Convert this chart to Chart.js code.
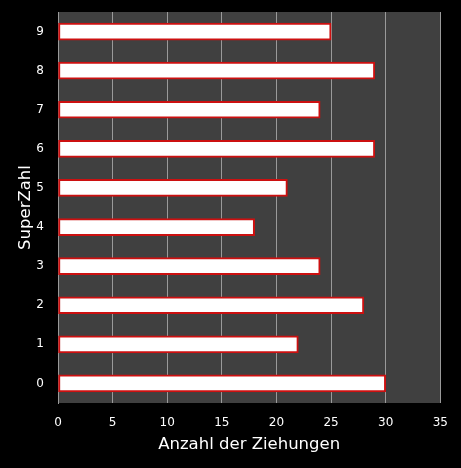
<!DOCTYPE html>
<html>
<head>
<meta charset="utf-8">
<script src="https://cdn.jsdelivr.net/npm/chart.js@4.4.0/dist/chart.umd.min.js"></script>
<style>
  html, body { margin: 0; padding: 0; background: #000; }
  #wrap { width: 461px; height: 468px; }
</style>
</head>
<body>
<div id="wrap"><canvas id="mycanvas"></canvas></div>
<script>
var superZahl = ['0', '1', '2', '3', '4', '5', '6', '7', '8', '9'];
var ziehungen = [30, 22, 28, 24, 18, 21, 29, 24, 29, 25];
var xTicks = [0, 5, 10, 15, 20, 25, 30, 35];

// dark plot area behind the bars
var plotBg = {
  id: 'plotBg',
  beforeDraw: function(chart) {
    var a = chart.chartArea, ctx = chart.ctx;
    ctx.save();
    ctx.fillStyle = '#404040';
    ctx.fillRect(a.left, a.top, a.right - a.left, a.bottom - a.top);
    ctx.restore();
  }
};

Chart.defaults.font.family = 'DejaVu Sans';
Chart.defaults.color = '#ffffff';

new Chart(document.getElementById('mycanvas'), {
  type: 'bar',
  data: {
    labels: superZahl,
    datasets: [{
      label: 'Anzahl',
      data: ziehungen,
      backgroundColor: '#ffffff',
      borderColor: '#cc1010',
      borderWidth: 2,
      borderSkipped: false,
      barThickness: 17
    }]
  },
  options: {
    indexAxis: 'y',
    responsive: true,
    maintainAspectRatio: false,
    animation: false,
    layout: { padding: { left: 16, right: 20, top: 12, bottom: 13 } },
    plugins: { legend: { display: false }, tooltip: { enabled: false } },
    scales: {
      x: {
        min: 0,
        max: 35,
        afterBuildTicks: function(scale) {
          scale.ticks = xTicks.map(function(v) { return { value: v }; });
        },
        afterFit: function(scale) { scale.height = 52; },
        grid: { color: '#9a9a9a', lineWidth: 1, drawTicks: false },
        border: { display: false },
        ticks: { color: '#ffffff', font: { size: 12 }, padding: 13 },
        title: {
          display: true,
          text: 'Anzahl der Ziehungen',
          color: '#ffffff',
          font: { size: 16.5 },
          padding: { top: 4, bottom: 0 }
        }
      },
      y: {
        reverse: true,
        afterFit: function(scale) {
          scale.width = 42;
          scale.paddingTop = 0;
          scale.paddingBottom = 0;
        },
        grid: { display: false, drawTicks: false },
        border: { display: true, color: '#9a9a9a', width: 1 },
        ticks: { color: '#ffffff', font: { size: 12 }, padding: 14 },
        title: {
          display: true,
          text: 'SuperZahl',
          color: '#ffffff',
          font: { size: 16.5 },
          padding: { top: 0, bottom: 4 }
        }
      }
    }
  },
  plugins: [plotBg]
});
</script>
</body>
</html>
